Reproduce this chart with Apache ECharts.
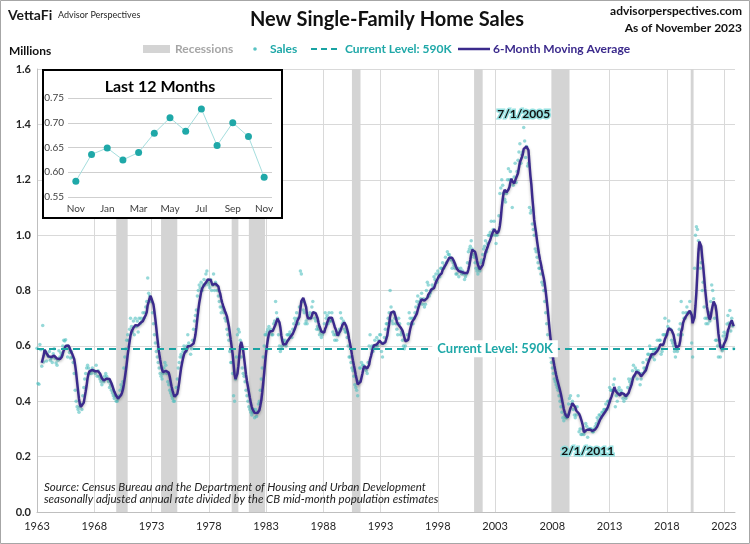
<!DOCTYPE html>
<html>
<head>
<meta charset="utf-8">
<script src="https://cdn.jsdelivr.net/npm/echarts@6.0.0/dist/echarts.min.js"></script>
<style>
html, body { margin: 0; padding: 0; background: #fff; }
#main { width: 750px; height: 544px; }
</style>
</head>
<body>
<div id="main"></div>
<script>
// new single-family home sales, SAAR, thousands, monthly from Jan 1963
var firstYear = 1963;
var sales1960s = [
591,464,461,605,586,526,674,542,582,574,545,568,
562,580,548,556,540,572,590,555,538,530,548,582,
560,574,566,600,620,618,622,600,560,590,576,556,
580,560,540,500,440,400,380,370,360,380,390,370,
420,450,480,500,520,530,520,500,510,500,520,510,
510,500,530,490,510,490,480,470,460,480,470,490,
500,490,480,470,450,460,440,430,420,410,420,400];
var sales1970s = [
400,410,420,440,460,450,470,520,560,590,620,640,
620,660,700,670,650,690,640,700,670,690,650,700,
680,700,690,720,700,720,740,760,845,790,780,770,
760,720,680,640,610,580,560,540,520,500,490,480,
500,520,540,530,500,470,460,440,430,420,410,400,
400,420,450,480,520,540,560,570,560,580,600,590,
580,600,640,610,600,570,590,620,660,690,710,730,
780,800,820,810,830,800,820,840,820,860,870,830,
820,810,840,800,820,860,800,830,820,800,780,760,
740,720,740,730,720,700,690,660,640,620,580,540];
var sales1980s = [
540,500,420,400,480,560,640,660,650,620,560,520,
500,490,470,440,420,400,380,370,360,350,360,370,
340,370,345,360,390,400,440,480,520,560,600,640,
640,650,660,670,650,660,640,640,680,690,760,720,
700,640,600,580,590,600,620,610,620,600,640,640,
640,650,640,630,660,680,700,690,720,700,680,740,
870,860,760,730,720,680,690,680,700,710,720,700,
740,760,720,700,690,660,670,660,640,650,630,640,
650,680,720,700,710,680,720,690,690,720,650,640,
620,640,620,650,640,660,720,700,680,690,660,650];
var sales1990s = [
650,630,600,560,560,540,520,510,490,460,450,440,
420,470,520,520,540,530,530,520,520,510,500,540,
600,640,590,600,580,600,620,600,630,600,620,640,
640,580,560,610,630,660,680,680,700,720,800,740,
690,680,720,700,680,660,640,700,680,640,650,620,
600,590,600,620,640,680,720,700,680,700,680,700,
720,740,760,780,750,760,770,790,750,770,740,750,
800,830,820,780,790,800,820,810,850,840,860,830,
870,860,850,880,880,900,880,890,920,900,940,930,
930,920,910,880,900,890,880,860,860,880,850,870];
var sales2000s = [
880,860,870,860,840,850,860,900,940,950,960,980,
950,930,920,900,880,870,860,880,870,900,910,930,
950,960,980,940,970,1000,1000,1010,1050,1000,1020,1050,
1000,970,1000,1010,1070,1150,1170,1200,1180,1150,1130,1120,
1150,1200,1240,1200,1230,1200,1100,1180,1210,1260,1190,1230,
1270,1300,1330,1260,1290,1300,1389,1340,1280,1320,1250,1260,
1100,1080,1090,1040,1020,1000,950,940,920,900,880,880,
860,830,820,800,760,720,680,640,600,580,560,540,
520,500,480,470,460,450,440,420,400,380,360,340,
330,350,340,340,350,390,410,420,390,400,370,350];
var sales2010s = [
340,350,380,420,290,300,280,280,300,280,290,320,
310,270,300,300,300,300,290,290,300,310,320,340,
330,350,350,340,360,360,370,370,390,370,400,400,
450,440,440,440,460,480,380,420,400,440,450,430,
440,430,410,400,420,410,420,450,480,470,460,480,
510,530,490,520,510,480,510,500,460,480,500,540,
520,510,520,550,570,570,600,560,570,560,580,550,
590,590,620,590,620,620,570,580,640,640,700,640,
640,670,690,660,660,620,610,600,580,560,590,580,
640,660,680,760,640,720,700,700,720,740,720,720];
var sales2020s = [
760,720,610,560,700,880,1000,1030,1020,980,950,880,
900,800,830,740,700,680,700,680,720,690,760,820,
800,770,700,620,620,600,560,620,560,600,582,636,
649,625,640,679,710,683,728,654,700,672,590];

var recessionStart = ['1969-12','1973-11','1980-01','1981-07','1990-07','2001-03','2007-12','2020-02'];
var recessionEnd   = ['1970-11','1975-03','1980-07','1982-11','1991-03','2001-11','2009-06','2020-04'];
var monthNames = ['Jan','Feb','Mar','Apr','May','Jun','Jul','Aug','Sep','Oct','Nov','Dec'];
var currentLevel = 0.59;
var currentLevelText = 'Current Level: 590K';
var currentLabelYear = 2003.0;

var FONT = 'Lato, "Noto Sans", sans-serif';
var TEAL = '#1fa8a8';
var PURPLE = '#3b2a8c';

var sales = [].concat(sales1960s, sales1970s, sales1980s, sales1990s, sales2000s, sales2010s, sales2020s)
    .map(function (v) { return v / 1000; });

function ym(s) {
    var p = s.split('-');
    return +p[0] + (p[1] - 1) / 12;
}
function dateLabel(i) {
    return (i % 12 + 1) + '/1/' + (firstYear + Math.floor(i / 12));
}

var salesPts = [], maPts = [];
for (var i = 0; i < sales.length; i++) {
    var x = firstYear + i / 12;
    salesPts.push([x, sales[i]]);
    if (i >= 5) {
        var s = 0;
        for (var k = i - 5; k <= i; k++) s += sales[k];
        maPts.push([x, s / 6]);
    }
}

var hi = 0, lo = 0;
for (var j = 0; j < sales.length; j++) {
    if (sales[j] > sales[hi]) hi = j;
    if (sales[j] < sales[lo]) lo = j;
}

var recessions = recessionStart.map(function (st, n) {
    return [{ xAxis: ym(st) }, { xAxis: ym(recessionEnd[n]) + 1 / 12 }];
});

// last 12 months inset (13 points)
var insetMonths = [], insetValues = [];
for (var m = sales.length - 13; m < sales.length; m++) {
    insetMonths.push(monthNames[m % 12]);
    insetValues.push(sales[m]);
}

var myChart = echarts.init(document.getElementById('main'));

function txt(x, y, text, font, fill, align) {
    return {
        type: 'text', x: x, y: y, z: 200,
        style: { text: text, font: font, fill: fill, align: align || 'left', textAlign: align || 'left',
                 verticalAlign: 'middle', textVerticalAlign: 'middle' }
    };
}

myChart.setOption({
    animation: false,
    textStyle: { fontFamily: FONT },
    grid: [
        { left: 37, top: 69, right: 15, bottom: 32 },
        { left: 68, top: 98, width: 204, height: 99 }
    ],
    xAxis: [{
        type: 'value', gridIndex: 0, min: firstYear, max: 2023.95, interval: 5,
        axisLine: { lineStyle: { color: '#bfbfbf' } },
        axisTick: { show: false },
        axisLabel: {
            color: '#262626', fontSize: 11, margin: 9, showMaxLabel: false,
            formatter: function (v) {
                var r = Math.round(v);
                return (Math.abs(v - r) < 1e-6 && (r - firstYear) % 5 === 0) ? String(r) : '';
            }
        },
        splitLine: { show: true, showMaxLine: false, lineStyle: { color: '#d9d9d9' } }
    }, {
        type: 'category', gridIndex: 1, data: insetMonths, boundaryGap: true, z: 60,
        axisLine: { show: false }, axisTick: { show: false },
        axisLabel: { interval: 1, fontSize: 10, color: '#404040', margin: 7 }
    }],
    yAxis: [{
        type: 'value', gridIndex: 0, min: 0, max: 1.6, interval: 0.2,
        axisLine: { show: true, lineStyle: { color: '#bfbfbf' } },
        axisTick: { show: false },
        axisLabel: { fontWeight: 'bold', fontSize: 11, color: '#262626', margin: 6,
                     formatter: function (v) { return v.toFixed(1); } },
        splitLine: { lineStyle: { color: '#d9d9d9' } }
    }, {
        type: 'value', gridIndex: 1, min: 0.55, max: 0.75, interval: 0.05, z: 60,
        axisLine: { show: false }, axisTick: { show: false },
        axisLabel: { fontSize: 10, color: '#404040', margin: 4,
                     formatter: function (v) { return v.toFixed(2); } },
        splitLine: { lineStyle: { color: '#cfcfcf' } }
    }],
    series: [{
        name: 'Recessions', type: 'line', data: [], z: 1,
        markArea: { silent: true, itemStyle: { color: '#d4d4d4' }, data: recessions }
    }, {
        name: 'Sales', type: 'scatter', data: salesPts, z: 2,
        symbolSize: 3.5,
        itemStyle: { color: 'rgba(80,192,192,0.75)' },
        markPoint: {
            symbol: 'circle', symbolSize: 0, silent: true,
            label: {
                show: true, formatter: '{b}', fontWeight: 'bold', fontSize: 12, color: '#111',
                textBorderColor: 'rgba(140,222,222,0.9)', textBorderWidth: 3
            },
            data: [
                { name: dateLabel(hi), coord: salesPts[hi], label: { position: 'top', distance: 7 } },
                { name: dateLabel(lo), coord: salesPts[lo], label: { position: 'bottom', distance: 8 } }
            ]
        }
    }, {
        name: 'Current Level', type: 'line', data: [], z: 4,
        markLine: {
            silent: true, symbol: 'none',
            lineStyle: { color: '#1aa3a3', width: 2, type: [7, 5] },
            label: { show: false },
            data: [{ yAxis: currentLevel }]
        },
        markPoint: {
            symbol: 'circle', symbolSize: 0, silent: true,
            label: {
                show: true, position: 'inside', formatter: '{b}', fontWeight: 'bold', fontSize: 13,
                color: TEAL, backgroundColor: '#fff', padding: [2, 5]
            },
            data: [{ name: currentLevelText, coord: [currentLabelYear, currentLevel] }]
        }
    }, {
        name: '6-Month Moving Average', type: 'line', data: maPts, z: 3,
        showSymbol: false, symbol: 'none',
        lineStyle: { color: PURPLE, width: 2.5, shadowColor: 'rgba(0,0,0,0.3)', shadowBlur: 3, shadowOffsetY: 1.5 }
    }, {
        name: 'Last 12 Months', type: 'line', xAxisIndex: 1, yAxisIndex: 1, data: insetValues, z: 70,
        symbol: 'circle', symbolSize: 7,
        lineStyle: { color: '#a5dede', width: 1 },
        itemStyle: { color: TEAL }
    }],
    graphic: [
        { type: 'rect', z: 0, shape: { x: 0.5, y: 0.5, width: 749, height: 543 },
          style: { fill: 'none', stroke: '#a6a6a6', lineWidth: 1 } },
        { type: 'rect', z: 50, shape: { x: 43, y: 70, width: 239, height: 148 },
          style: { fill: '#fff', stroke: '#000', lineWidth: 2 } },
        txt(160, 87, 'Last 12 Months', 'bold 16px ' + FONT, '#000', 'center'),
        txt(8, 15, 'VettaFi', 'bold 14px ' + FONT, '#1a1a1a'),
        txt(58, 15, 'Advisor Perspectives', '9px ' + FONT, '#262626'),
        txt(387, 20, 'New Single-Family Home Sales', 'bold 20px ' + FONT, '#111', 'center'),
        txt(742, 11, 'advisorperspectives.com', 'bold 12px ' + FONT, '#111', 'right'),
        txt(742, 28, 'As of November 2023', 'bold 12px ' + FONT, '#111', 'right'),
        txt(9, 51, 'Millions', 'bold 12px ' + FONT, '#111'),
        // legend
        { type: 'rect', z: 200, shape: { x: 143, y: 45, width: 27, height: 8 }, style: { fill: '#d4d4d4' } },
        txt(175, 49, 'Recessions', 'bold 12px ' + FONT, '#a6a6a6'),
        { type: 'circle', z: 200, shape: { cx: 255, cy: 49, r: 1.8 }, style: { fill: 'rgba(70,188,188,0.9)' } },
        txt(270, 49, 'Sales', 'bold 12px ' + FONT, TEAL),
        { type: 'line', z: 200, shape: { x1: 311, y1: 49, x2: 340, y2: 49 },
          style: { stroke: '#1aa3a3', lineWidth: 2, lineDash: [6, 4] } },
        txt(345, 49, 'Current Level: 590K', 'bold 12px ' + FONT, TEAL),
        { type: 'line', z: 200, shape: { x1: 458, y1: 49, x2: 490, y2: 49 },
          style: { stroke: PURPLE, lineWidth: 2.5 } },
        txt(493, 49, '6-Month Moving Average', 'bold 12px ' + FONT, PURPLE),
        // source note
        txt(44, 487, 'Source: Census Bureau and the Department of Housing and Urban Development', 'italic 11.5px ' + FONT, '#222'),
        txt(44, 499, 'seasonally adjusted annual rate divided by the CB mid-month population estimates', 'italic 11.5px ' + FONT, '#222')
    ]
});
</script>
</body>
</html>
